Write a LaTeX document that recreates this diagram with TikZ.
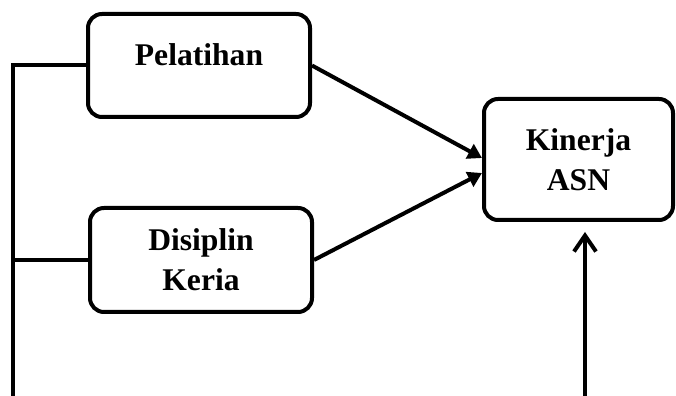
\documentclass[tikz,border=0pt]{standalone}
\usepackage{fontspec}
\setmainfont{Liberation Serif}
\usetikzlibrary{arrows.meta,calc}

\begin{document}
\begin{tikzpicture}[x=0.5pt,y=0.5pt,align=center,
	line width=2pt,
	box/.style={rectangle,draw,rounded corners=7pt,line width=2pt,
		font=\bfseries\fontsize{15.8}{20}\selectfont},
	conn/.style={line width=2pt,-{Triangle[length=7pt,width=8pt]}},
	open/.style={line width=2pt,-{Straight Barb[length=8pt,width=11pt]}}]
\useasboundingbox (0,0) rectangle (676,396);
\node[box,minimum width=111pt,minimum height=51.5pt,text depth=10.5pt](pel) at (199,330.5){Pelatihan};
\node[box,minimum width=111pt,minimum height=52pt](dis) at (201,136){Disiplin \\ Keria};
\node[box,minimum width=94.5pt,minimum height=60.5pt](kin) at (578.5,236.5){Kinerja \\ ASN};
\coordinate (kiri) at (12.5,0);
\coordinate (bawah) at (585,0);
\coordinate (atas) at (585,164);
\draw (pel.west) -| (kiri);
\draw (dis.west) -- (dis.west -| kiri);
\draw[conn] (pel.east) -- ($(kin.west)+(0,1.5)$);
\draw[conn] (dis.east) -- ($(kin.west)+(0,-13.5)$);
\draw[open] (bawah) -- (atas);
\end{tikzpicture}
\end{document}
